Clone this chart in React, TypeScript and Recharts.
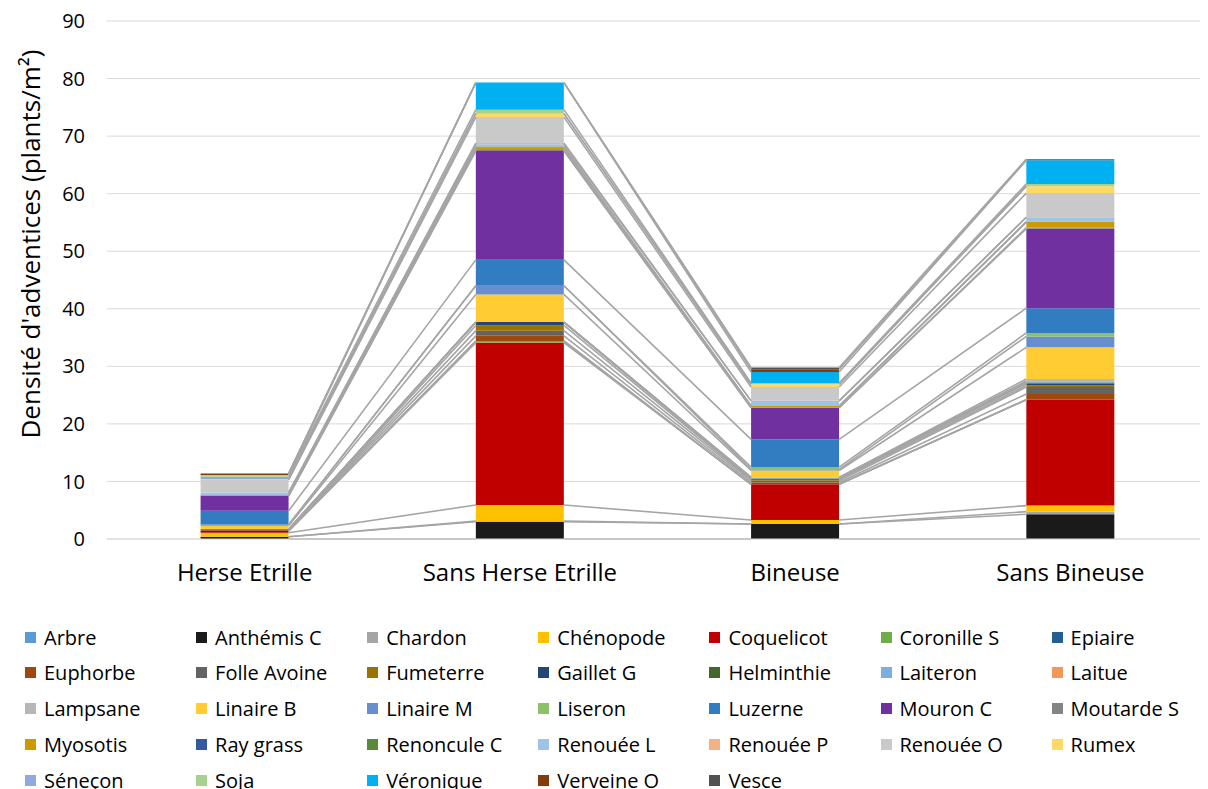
import React from "react";
import { Bar, CartesianGrid, ComposedChart, Label, Legend, Line, XAxis, YAxis } from "recharts";

const categories = ["Herse Etrille", "Sans Herse Etrille", "Bineuse", "Sans Bineuse"];
const yTicks = [0, 10, 20, 30, 40, 50, 60, 70, 80, 90];

const species = [
  "Arbre", "Anthémis C", "Chardon", "Chénopode", "Coquelicot", "Coronille S", "Epiaire",
  "Euphorbe", "Folle Avoine", "Fumeterre", "Gaillet G", "Helminthie", "Laiteron", "Laitue",
  "Lampsane", "Linaire B", "Linaire M", "Liseron", "Luzerne", "Mouron C", "Moutarde S",
  "Myosotis", "Ray grass", "Renoncule C", "Renouée L", "Renouée P", "Renouée O", "Rumex",
  "Séneçon", "Soja", "Véronique", "Verveine O", "Vesce",
];

const colors = [
  "#5B9BD5", "#1A1A1A", "#A5A5A5", "#FFC000", "#C00000", "#70AD47", "#255E91",
  "#9E480E", "#636363", "#997300", "#264478", "#43682B", "#7CAFDD", "#F1975A",
  "#B7B7B7", "#FFCD33", "#698ED0", "#8CC168", "#327DC2", "#7030A0", "#848484",
  "#CC9A00", "#335AA1", "#5A8A39", "#9DC3E6", "#F4B183", "#C9C9C9", "#FFD966",
  "#8FAADC", "#A9D18E", "#00B0F0", "#843C0C", "#525252",
];

// plants/m² per species, same order as `species`
const herseEtrille = [
  0, 0.4, 0, 0.7, 0.3, 0, 0, 0.1, 0, 0, 0.2, 0, 0, 0, 0, 0.6, 0.2, 0, 2.4, 2.6, 0,
  0.15, 0, 0, 0.4, 0, 2.2, 0.15, 0.4, 0.3, 0, 0.3, 0,
];
const sansHerseEtrille = [
  0, 3.0, 0.1, 2.8, 28.2, 0.3, 0, 0.9, 0.9, 0.9, 0.6, 0, 0, 0, 0, 4.8, 1.5, 0, 4.5, 18.9, 0.2,
  0.4, 0, 0.2, 0.4, 0.2, 4.5, 0.6, 0, 0.7, 4.7, 0, 0,
];
const bineuse = [
  0, 2.6, 0, 0.7, 6.2, 0, 0, 0.3, 0.3, 0.2, 0.2, 0, 0.2, 0, 0, 1.2, 0.2, 0.4, 4.8, 5.5, 0,
  0.3, 0, 0, 0.9, 0, 2.4, 0.5, 0, 0.2, 1.9, 0.5, 0.3,
];
const sansBineuse = [
  0, 4.3, 0.45, 1.05, 18.4, 0, 0, 1.0, 1.2, 0.3, 0.3, 0.2, 0.2, 0, 0.4, 5.5, 1.9, 0.6, 4.3, 13.8, 0.2,
  1.0, 0, 0, 0.8, 0, 4.2, 1.2, 0, 0.4, 4.1, 0, 0.2,
];

const series = [herseEtrille, sansHerseEtrille, bineuse, sansBineuse];

const data = categories.map((name, i) => {
  const row: Record<string, any> = { name };
  species.forEach((s, k) => (row[s] = series[i][k]));
  return row;
});

// running totals, for the series lines between bars
const cumul = species.map((_, k) =>
  series.map((vals) => vals.slice(0, k + 1).reduce((a, b) => a + b, 0))
);

const GAP = 0.34;
const lineData = cumul.map((c) => {
  const pts: { x: number; y: number | null }[] = [];
  for (let i = 0; i < c.length - 1; i++) {
    if (i > 0) pts.push({ x: i + 0.5, y: null });
    pts.push({ x: i + 1 - GAP, y: c[i] });
    pts.push({ x: i + 1 + GAP, y: c[i + 1] });
  }
  return pts;
});

const FONT = "'Open Sans', sans-serif";

const renderLegend = () => (
  <div style={{ position: "relative", width: 1200, height: 170, fontFamily: FONT }}>
    {species.map((s, k) => {
      const col = k % 7;
      const row = Math.floor(k / 7);
      return (
        <div
          key={s}
          style={{
            position: "absolute",
            left: 17 + col * 171.1,
            top: 18 + row * 35.8 - 13,
            height: 26,
            display: "flex",
            alignItems: "center",
            fontSize: 20,
            color: "#000",
            whiteSpace: "nowrap",
          }}
        >
          <span style={{ display: "inline-block", width: 11, height: 11, background: colors[k], marginRight: 8 }} />
          {s}
        </div>
      );
    })}
  </div>
);

export default function App() {
  return (
    <ComposedChart
      width={1200}
      height={781}
      data={data}
      margin={{ top: 13, right: 0, left: 0, bottom: 0 }}
      barCategoryGap="34%"
    >
      <CartesianGrid vertical={false} stroke="#D9D9D9" />
      <XAxis
        dataKey="name"
        height={80}
        axisLine={{ stroke: "#D9D9D9" }}
        tickLine={false}
        tickMargin={19}
        tick={{ fill: "#000", fontSize: 24, fontFamily: FONT }}
      />
      <XAxis xAxisId="lines" type="number" dataKey="x" domain={[0, 4]} allowDataOverflow hide />
      <YAxis
        width={99}
        domain={[0, 90]}
        ticks={yTicks}
        axisLine={false}
        tickLine={false}
        tickMargin={16}
        tick={{ fill: "#000", fontSize: 20, fontFamily: FONT }}
      >
        <Label
          content={() => (
            <text
              x={22}
              y={236}
              transform="rotate(-90 22 236)"
              textAnchor="middle"
              dominantBaseline="central"
              fontSize={26}
              fontFamily={FONT}
              fill="#000"
            >
              Densité d'adventices (plants/m²)
            </text>
          )}
        />
      </YAxis>
      {species.map((s, k) => (
        <Line
          key={"l" + s}
          xAxisId="lines"
          data={lineData[k]}
          dataKey="y"
          stroke="#A5A5A5"
          strokeWidth={1.6}
          dot={false}
          activeDot={false}
          legendType="none"
          isAnimationActive={false}
        />
      ))}
      {species.map((s, k) => (
        <Bar key={s} dataKey={s} stackId="a" fill={colors[k]} isAnimationActive={false} />
      ))}
      <Legend verticalAlign="bottom" height={170} content={renderLegend} />
    </ComposedChart>
  );
}
